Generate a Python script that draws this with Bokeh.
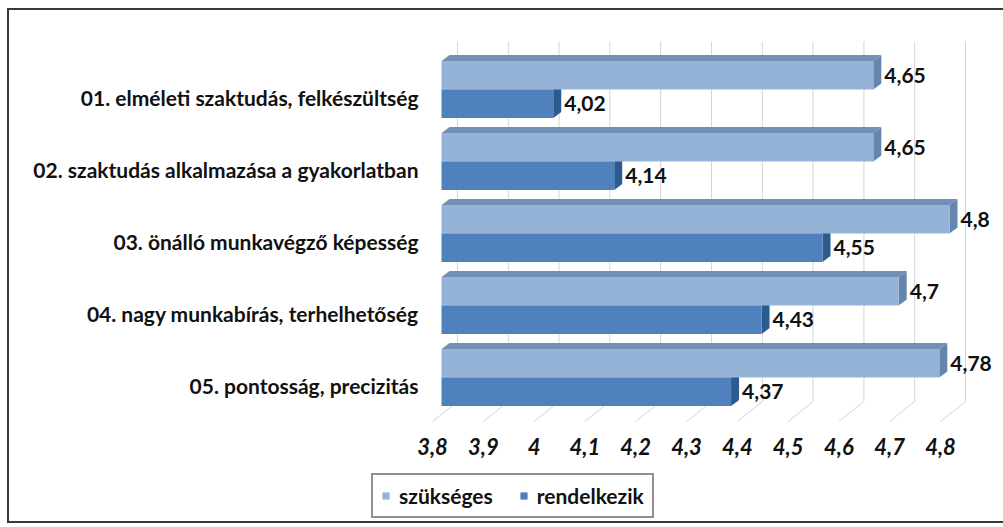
from bokeh.plotting import figure
from bokeh.layouts import column
from bokeh.models import Range1d, FixedTicker, Legend, LegendItem, InlineStyleSheet
from bokeh.embed import file_html
from bokeh.resources import INLINE
from bokeh.core.properties import value

# ---------------- data ----------------
categories = [
    "01. elméleti szaktudás, felkészültség",
    "02. szaktudás alkalmazása a gyakorlatban",
    "03. önálló munkavégző képesség",
    "04. nagy munkabírás, terhelhetőség",
    "05. pontosság, precizitás",
]
szukseges = [4.65, 4.65, 4.8, 4.7, 4.78]
rendelkezik = [4.02, 4.14, 4.55, 4.43, 4.37]
series_names = ["szükséges", "rendelkezik"]
series_colors = ["#95b3d7", "#4f81bd"]
x_ticks = [3.8, 3.9, 4.0, 4.1, 4.2, 4.3, 4.4, 4.5, 4.6, 4.7, 4.8]
x_tick_labels = ["3,8", "3,9", "4", "4,1", "4,2", "4,3", "4,4", "4,5", "4,6", "4,7", "4,8"]
x_base = 3.8

# ---------------- geometry (pixels -> data) ----------------
PXU = 508.0   # px per x unit
PYU = 72.0    # px per category
FONT = "Lato"
FS = "21px"

def dx(px):
    return px / PXU

def dy(px):  # y axis is reversed: negative px = upwards
    return px / PYU

W = 1003
left_b, top_b = 428, 36
frame_w, frame_h = 572, 389
main_h = 470
leg_h = 54
x0 = x_base - dx(4)
y_top = 1 + (36 - 97) / PYU
y_bot = y_top + frame_h / PYU

border_css = InlineStyleSheet(css="""
:host { position: relative; }
:host::after { content: ""; position: absolute; left: 7px; top: 8px; width: 1010px; bottom: 1px;
  border: 2px solid #3a3a3a; pointer-events: none; z-index: 100; }
""")

p = figure(frame_width=frame_w, frame_height=frame_h,
           x_range=Range1d(x0, x0 + frame_w / PXU),
           y_range=Range1d(y_bot, y_top),
           output_backend="svg", toolbar_location=None, frame_align=False,
           min_border_left=left_b, min_border_top=top_b,
           min_border_right=W - left_b - frame_w, min_border_bottom=main_h - top_b - frame_h)
p.outline_line_color = None
p.xgrid.visible = False
p.ygrid.visible = False
p.background_fill_color = "white"
p.border_fill_color = "white"

# back wall / floor geometry
wall_dx, wall_dy = dx(25), dy(-20)
cat_lo, cat_hi = 0.5, len(categories) + 0.5

# back-wall gridlines
p.segment(x0=[t + wall_dx for t in x_ticks], y0=[cat_lo + wall_dy] * len(x_ticks),
          x1=[t + wall_dx for t in x_ticks], y1=[cat_hi + wall_dy] * len(x_ticks),
          line_color="#d4d4d4", line_width=1)
# floor lines
p.segment(x0=x_ticks, y0=[cat_hi] * len(x_ticks),
          x1=[t + wall_dx for t in x_ticks], y1=[cat_hi + wall_dy] * len(x_ticks),
          line_color="#d4d4d4", line_width=1)

# bars
fdx, fdy = dx(9), dy(-8)      # bar front plane offset
bdx, bdy = dx(8), dy(-6)      # bar depth
bar_h = 28.5 / PYU

series = [
    (rendelkezik, +1, series_colors[1], "#3a6ca6", "#2c5b90"),
    (szukseges, -1, series_colors[0], "#7290b7", "#6685ad"),
]
for vals, side, c_front, c_top, c_side in series:
    ys = [i + 1 + fdy + side * bar_h / 2 for i in range(len(vals))]
    lefts = [x_base + fdx] * len(vals)
    rights = [v + fdx for v in vals]
    top_xs, top_ys, side_xs, side_ys = [], [], [], []
    for yc, l, r in zip(ys, lefts, rights):
        yt, yb = yc - bar_h / 2, yc + bar_h / 2
        top_xs.append([l, r, r + bdx, l + bdx])
        top_ys.append([yt, yt, yt + bdy, yt + bdy])
        side_xs.append([r, r + bdx, r + bdx, r])
        side_ys.append([yt, yt + bdy, yb + bdy, yb])
    p.patches(top_xs, top_ys, fill_color=c_top, line_color=None)
    p.patches(side_xs, side_ys, fill_color=c_side, line_color=None)
    p.hbar(y=ys, left=lefts, right=rights, height=bar_h, fill_color=c_front, line_color=None)
    p.text(x=[v + fdx + bdx + dx(3) for v in vals], y=ys,
           text=[str(v).replace(".", ",") for v in vals],
           text_font=value(FONT), text_font_style="bold", text_font_size=FS,
           text_color="#111111", text_baseline="middle", text_align="left")

# axes
xa = p.xaxis[0]
xa.ticker = FixedTicker(ticks=x_ticks)
xa.major_label_overrides = dict(zip(x_ticks, x_tick_labels))
xa.axis_line_color = None
xa.major_tick_line_color = None
xa.minor_tick_line_color = None
xa.major_tick_out = 0
xa.major_tick_in = 0
xa.major_label_standoff = 12
xa.major_label_text_font = FONT
xa.major_label_text_font_style = "bold italic"
xa.major_label_text_font_size = "22px"
xa.major_label_text_color = "#111111"

ya = p.yaxis[0]
ya.ticker = FixedTicker(ticks=list(range(1, len(categories) + 1)))
ya.major_label_overrides = {i + 1: c for i, c in enumerate(categories)}
ya.axis_line_color = None
ya.major_tick_line_color = None
ya.minor_tick_line_color = None
ya.major_tick_out = 0
ya.major_tick_in = 0
ya.major_label_standoff = 10
ya.major_label_text_font = FONT
ya.major_label_text_font_style = "bold"
ya.major_label_text_font_size = FS
ya.major_label_text_color = "#111111"

# ---------------- legend strip ----------------
q = figure(width=W, height=leg_h, x_range=Range1d(0, W), y_range=Range1d(0, leg_h),
           x_axis_type=None, y_axis_type=None, output_backend="svg", toolbar_location=None,
           frame_align=False,
           min_border_left=0, min_border_right=0, min_border_top=0, min_border_bottom=0)
q.outline_line_color = None
q.grid.visible = False
q.background_fill_color = "white"
q.border_fill_color = "white"
items = []
for name, col in zip(series_names, series_colors):
    # legend swatch holder, kept outside the visible range
    rr = q.hbar(y=[-1000], left=[0], right=[1], height=1, fill_color=col, line_color=None)
    items.append(LegendItem(label=name, renderers=[rr]))
legend = Legend(items=items, location=(371, 6), orientation="horizontal",
                glyph_width=9, glyph_height=9, spacing=26, padding=8, margin=0,
                label_text_font=FONT, label_text_font_style="bold", label_text_font_size=FS,
                label_text_color="#111111", border_line_color="#222222", border_line_width=2,
                background_fill_alpha=1.0, label_standoff=9)
q.add_layout(legend, "center")

layout = column(p, q, spacing=0, stylesheets=[border_css])
open("out.html", "w").write(file_html(layout, INLINE))
